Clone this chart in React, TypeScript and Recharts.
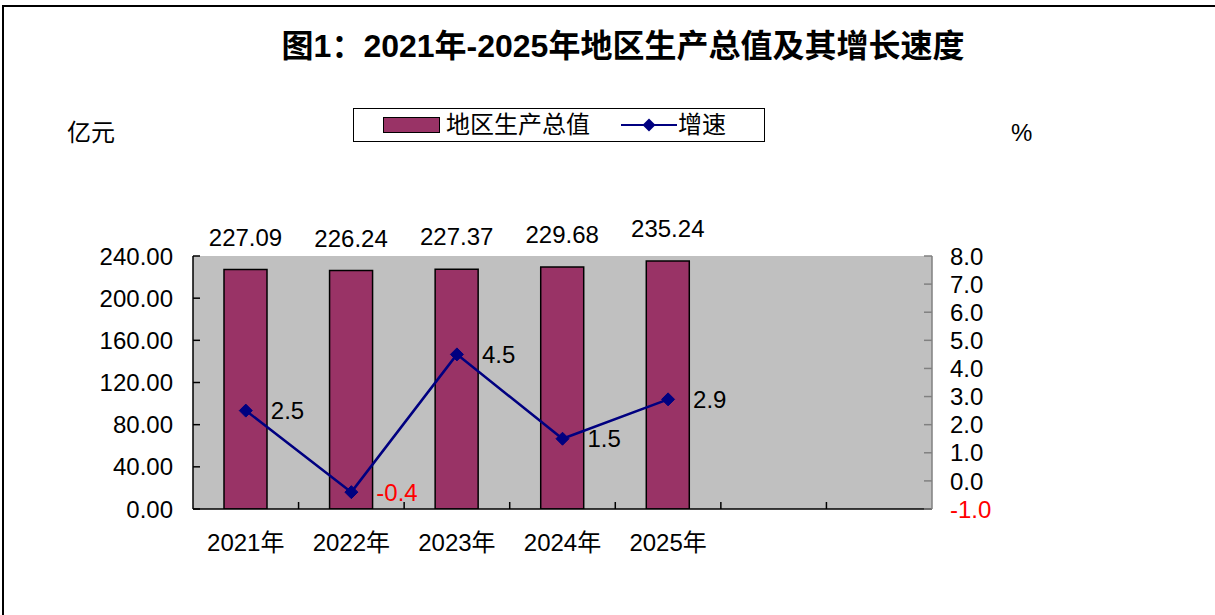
import React from 'react';
import { ComposedChart, Bar, Line, XAxis, YAxis, CartesianGrid, LabelList, Legend } from 'recharts';

const categories = ['2021年', '2022年', '2023年', '2024年', '2025年', ' ', '  '];
const gdpValues: (number | null)[] = [227.09, 226.24, 227.37, 229.68, 235.24, null, null];
const growthValues: (number | null)[] = [2.5, -0.4, 4.5, 1.5, 2.9, null, null];
const leftTicks = [0, 40, 80, 120, 160, 200, 240];
const rightTicks = [-1, 0, 1, 2, 3, 4, 5, 6, 7, 8];

const data = categories.map((name, i) => ({ name, gdp: gdpValues[i], growth: growthValues[i] }));

const NUM_FONT = '"Liberation Sans", Arial, "Noto Sans CJK SC", sans-serif';
const CJK_FONT = '"Liberation Sans", "Noto Sans CJK SC", sans-serif';
const BAR_COLOR = '#993366';
const LINE_COLOR = '#000080';
const FS = 24;
const CAT_MARGIN = 24;
const TICK_LEN = 7;

const LeftTick = (p: any) => (
  <text x={p.x} y={p.y} dy="0.36em" textAnchor="end" fontFamily={NUM_FONT} fontSize={FS} fill="#000">
    {Number(p.payload.value).toFixed(2)}
  </text>
);

const RightTick = (p: any) => (
  <text x={p.x} y={p.y} dy="0.36em" textAnchor="start" fontFamily={NUM_FONT} fontSize={FS}
    fill={p.payload.value < 0 ? '#FF0000' : '#000'}>
    {Number(p.payload.value).toFixed(1)}
  </text>
);

// Category label plus an inward tick mark on the boundary to the right of each category slot
const CatTick = (p: any) => {
  const slot = p.width / (p.visibleTicksCount || categories.length);
  const axisY = p.y - CAT_MARGIN;
  const bx = p.x + slot / 2;
  const isLast = p.index === (p.visibleTicksCount || categories.length) - 1;
  return (
    <g>
      {!isLast && <line x1={bx} y1={axisY} x2={bx} y2={axisY - TICK_LEN} stroke="#000" strokeWidth={1.5} />}
      <text x={p.x} y={p.y} dy="0.75em" textAnchor="middle" fontFamily={CJK_FONT} fontSize={FS} fill="#000">
        {p.payload.value}
      </text>
    </g>
  );
};

const Diamond = (p: any) => {
  if (p.cx == null || p.cy == null || p.value == null) return <g key={p.index} />;
  const s = 6.5;
  return (
    <polygon key={p.index}
      points={`${p.cx},${p.cy - s} ${p.cx + s},${p.cy} ${p.cx},${p.cy + s} ${p.cx - s},${p.cy}`}
      fill={LINE_COLOR} stroke={LINE_COLOR} />
  );
};

const BarLabel = (p: any) => {
  if (p.value == null) return null;
  return (
    <text x={p.x + p.width / 2} y={p.y - 24} textAnchor="middle" fontFamily={NUM_FONT} fontSize={FS} fill="#000">
      {Number(p.value).toFixed(2)}
    </text>
  );
};

const LineLabel = (p: any) => {
  if (p.value == null) return null;
  return (
    <text x={p.x + 25} y={p.y} dy="0.36em" textAnchor="start" fontFamily={NUM_FONT} fontSize={FS}
      fill={p.value < 0 ? '#FF0000' : '#000'}>
      {Number(p.value).toFixed(1)}
    </text>
  );
};

const LegendBox = () => (
  <div style={{
    width: 412, height: 34, boxSizing: 'border-box', border: '1.5px solid #000', background: '#fff',
    display: 'flex', alignItems: 'center', fontFamily: CJK_FONT, fontSize: 24, color: '#000',
  }}>
    <span style={{ display: 'inline-block', width: 57, height: 16, boxSizing: 'border-box', background: BAR_COLOR, border: '1.5px solid #000', marginLeft: 29 }} />
    <span style={{ marginLeft: 6, lineHeight: '30px' }}>地区生产总值</span>
    <svg width={56} height={20} style={{ marginLeft: 31 }}>
      <line x1={0} y1={10} x2={56} y2={10} stroke={LINE_COLOR} strokeWidth={2} />
      <polygon points="28,3.5 34.5,10 28,16.5 21.5,10" fill={LINE_COLOR} />
    </svg>
    <span style={{ marginLeft: 1, lineHeight: '30px' }}>增速</span>
  </div>
);

export default function App() {
  return (
    <div style={{ position: 'absolute', left: 0, top: 0, width: 1215, height: 615, overflow: 'hidden', background: '#fff' }}>
      <div style={{ position: 'absolute', left: 2, top: 5, width: 1213, height: 610, borderLeft: '2px solid #000', borderTop: '2px solid #000', boxSizing: 'border-box' }} />
      <div style={{ position: 'absolute', left: 223, top: 28, width: 800, textAlign: 'center', fontFamily: CJK_FONT, fontWeight: 'bold', fontSize: 32, lineHeight: '36px', color: '#000' }}>
        图1：2021年-2025年地区生产总值及其增长速度
      </div>
      <div style={{ position: 'absolute', left: 67, top: 118, fontFamily: CJK_FONT, fontSize: 24, lineHeight: '30px', color: '#000' }}>亿元</div>
      <div style={{ position: 'absolute', left: 1011, top: 118, fontFamily: NUM_FONT, fontSize: 24, lineHeight: '30px', color: '#000' }}>%</div>
      <div style={{ position: 'absolute', left: 0, top: 0 }}>
        <ComposedChart width={1215} height={615} data={data}
          margin={{ top: 256, right: 183, bottom: 56, left: 0 }} barCategoryGap={0}>
          <CartesianGrid xAxisId="cat" yAxisId="left" horizontal={false} vertical={false} fill="#C0C0C0" stroke="none" />
          <XAxis xAxisId="cat" dataKey="name" tick={<CatTick />} tickLine={false} tickSize={0} tickMargin={CAT_MARGIN}
            axisLine={{ stroke: '#000', strokeWidth: 1.5 }} height={50} interval={0} />
          <YAxis yAxisId="left" width={193} domain={[0, 240]} ticks={leftTicks} allowDataOverflow
            tick={<LeftTick />} tickSize={-TICK_LEN} tickMargin={27}
            axisLine={{ stroke: '#000', strokeWidth: 1.5 }} tickLine={{ stroke: '#000', strokeWidth: 1.5 }} interval={0} />
          <YAxis yAxisId="right" orientation="right" width={100} domain={[-1, 8]} ticks={rightTicks} allowDataOverflow
            tick={<RightTick />} tickSize={-8} tickMargin={26}
            axisLine={{ stroke: '#808080', strokeWidth: 1.5 }} tickLine={{ stroke: '#808080', strokeWidth: 1.5 }} interval={0} />
          <Legend layout="horizontal" verticalAlign="middle" align="center"
            wrapperStyle={{ position: 'absolute', left: 353, top: 108, width: 412, height: 34 }}
            content={() => <LegendBox />} />
          <Bar xAxisId="cat" yAxisId="left" dataKey="gdp" name="地区生产总值" fill={BAR_COLOR} stroke="#000" strokeWidth={1.5}
            barSize={43} isAnimationActive={false}>
            <LabelList dataKey="gdp" content={<BarLabel />} />
          </Bar>
          <Line xAxisId="cat" yAxisId="right" dataKey="growth" name="增速" stroke={LINE_COLOR} strokeWidth={2.5}
            dot={Diamond} activeDot={false} isAnimationActive={false} connectNulls={false}>
            <LabelList dataKey="growth" content={<LineLabel />} />
          </Line>
        </ComposedChart>
      </div>
    </div>
  );
}
